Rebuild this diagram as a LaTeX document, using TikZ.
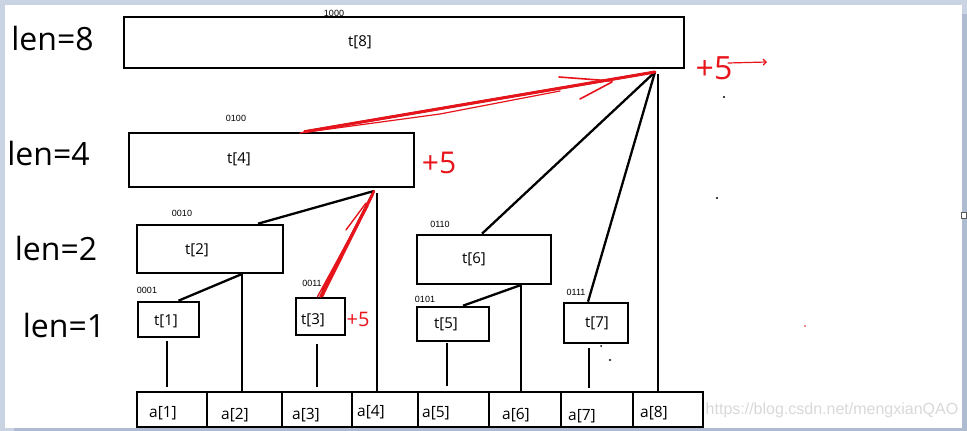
\documentclass[tikz,border=0pt]{standalone}
\usepackage{fontspec}
\usetikzlibrary{arrows.meta}
\newfontfamily\uifont{Open Sans}
\newfontfamily\arialfont{Liberation Sans}
\definecolor{inkred}{HTML}{E8141C}
\definecolor{winframe}{HTML}{C9D3E2}
\definecolor{winedge}{HTML}{AEBBD0}
\definecolor{wmgrey}{HTML}{D9D9D9}
\tikzset{
  tbox/.style={draw, line width=2.6pt, inner sep=0pt},
  tname/.style={font=\uifont\fontsize{15}{15}\selectfont, inner sep=0pt},
  bits/.style={font=\arialfont\fontsize{9}{9}\selectfont, inner sep=0pt},
  lenname/.style={font=\uifont\fontsize{32}{32}\selectfont, inner sep=0pt, anchor=base},
  cell/.style={draw, line width=2.6pt, minimum height=35pt, inner sep=0pt},
  link/.style={line width=2.3pt},
  redink/.style={draw=inkred, line cap=round},
  plusfive/.style={text=inkred, inner sep=0pt}
}

\begin{document}
\begin{tikzpicture}[x=1pt, y=-1pt]
  \useasboundingbox (0,0) rectangle (967,431);
  % window frame
  \fill[winframe] (0,0) rectangle (967,431);
  \fill[white] (5,5) rectangle (962,428);
  \fill[winedge] (962,14) rectangle (967,431);
  \fill[winedge] (14,428) rectangle (967,431);
  \draw[fill=white, line width=0.8pt, draw=gray!70!black] (961.5,212.5) rectangle (966.5,218.5);

  % level labels
  \node[lenname] (len8) at (52.5,50) {len=8};
  \node[lenname] (len4) at (48.5,165) {len=4};
  \node[lenname] (len2) at (56,260) {len=2};
  \node[lenname] (len1) at (64,337) {len=1};

  % tree boxes
  \node[tbox, minimum width=560pt, minimum height=51pt] (t8) at (404,42.5) {};
  \node[tbox, minimum width=285pt, minimum height=54pt] (t4) at (271.5,160) {};
  \node[tbox, minimum width=146pt, minimum height=48pt] (t2) at (210,249) {};
  \node[tbox, minimum width=134pt, minimum height=49pt] (t6) at (484,259.5) {};
  \node[tbox, minimum width=61pt, minimum height=35pt] (t1) at (168.5,319.5) {};
  \node[tbox, minimum width=49pt, minimum height=37pt] (t3) at (320.5,316.5) {};
  \node[tbox, minimum width=72pt, minimum height=34pt] (t5) at (453,324) {};
  \node[tbox, minimum width=64pt, minimum height=40pt] (t7) at (596,323) {};

  % names and bit codes
  \node[tname] (n8) at (360,42) {t[8]};
  \node[tname] (n4) at (239,159) {t[4]};
  \node[tname] (n2) at (197,250) {t[2]};
  \node[tname] (n6) at (474,259) {t[6]};
  \node[tname] (n1) at (166,321) {t[1]};
  \node[tname] (n3) at (313,320) {t[3]};
  \node[tname] (n5) at (446,324) {t[5]};
  \node[tname] (n7) at (597,323) {t[7]};
  \node[bits] (b8) at (334,13) {1000};
  \node[bits] (b4) at (236,118) {0100};
  \node[bits] (b2) at (182,213) {0010};
  \node[bits] (b6) at (440,224) {0110};
  \node[bits] (b1) at (147,290) {0001};
  \node[bits] (b3) at (312,283) {0011};
  \node[bits] (b5) at (425,299) {0101};
  \node[bits] (b7) at (576,292) {0111};

  % array a[1..8]
  \foreach \i/\l/\r/\lx/\ly in {1/137/207/163/413, 2/207/282/235/415,
      3/282/352/306/415, 4/352/418/371/412, 5/418/489/436/413,
      6/489/561/516/415, 7/561/633/582/416, 8/633/703/654/413} {
    \node[cell, minimum width={\r-\l}] (a\i) at ({(\l+\r)/2},409.5) {};
    \node[tname, font=\uifont\fontsize{15.5}{15.5}\selectfont] (la\i) at (\lx,\ly) {a[\i]};
  }

  % links
  \coordinate (j8) at (655,72);
  \coordinate (j4) at (374,191);
  \coordinate (j2) at (242,274);
  \coordinate (j6) at (521,285);
  \draw[link] (j8) -- ([xshift=33pt]t4.north);
  \draw[link] (j8) -- ([xshift=-2pt]t6.north);
  \draw[link] (j8) -- ([xshift=-8pt]t7.north);
  \draw[link] ([xshift=3pt,yshift=-2pt]j8) -- ([xshift=-10pt]a8.north);
  \draw[link] (j4) -- ([xshift=48pt]t2.north);
  \draw[link] (j4) -- (t3.north);
  \draw[link] ([xshift=3pt,yshift=-2pt]j4) -- ([xshift=-8pt]a4.north);
  \draw[link] (j2) -- ([xshift=10pt]t1.north);
  \draw[link] (j2) -- ([xshift=-2.5pt]a2.north);
  \draw[link] (j6) -- ([xshift=10pt]t5.north);
  \draw[link] (j6) -- ([xshift=-4pt]a6.north);
  % leaf stubs
  \draw[link, shorten <=3pt, shorten >=4pt] ([xshift=-1.5pt]t1.south) -- ([xshift=-1.5pt]t1.south |- a1.north);
  \draw[link, shorten <=8pt, shorten >=4pt] ([xshift=-3.5pt]t3.south) -- ([xshift=-3.5pt]t3.south |- a3.north);
  \draw[link, shorten <=1pt, shorten >=5pt] ([xshift=-6pt]t5.south) -- ([xshift=-6pt]t5.south |- a5.north);
  \draw[link, shorten <=4pt, shorten >=3pt] ([xshift=-7pt]t7.south) -- ([xshift=-7pt]t7.south |- a7.north);

  % red marks
  \draw[redink, line width=3pt] ([xshift=33pt]t4.north) -- (j8);
  \draw[redink, line width=1.2pt] (300,133) -- (440,114) -- (560,91);
  \draw[redink, line width=1.6pt] (559,77) -- (612,81);
  \draw[redink, line width=1.6pt] (580,99) -- (612,82);
  \draw[redink, line width=2.4pt] (t3.north) -- (j4);
  \draw[redink, line width=1.4pt] ([xshift=-3pt]t3.north) -- ([xshift=-3pt,yshift=-8pt]j4);
  \draw[redink, line width=1.4pt] ([xshift=2pt]t3.north) -- ([xshift=-1pt,yshift=-4pt]j4);
  \draw[redink, line width=1.2pt] (322,290) -- (362,214);
  \draw[redink, line width=1.4pt] (346,230) -- (366,203);
  \draw[redink, line width=1.2pt] (352,236) -- (368,206);
  \node[plusfive, font=\uifont\fontsize{32}{32}\selectfont] (p8) at (714,68) {+5};
  \draw[redink, line width=1.2pt, -{Straight Barb[length=3pt]}] (728,63) -- (767,62);
  \node[plusfive, font=\uifont\fontsize{30}{30}\selectfont] (p4) at (439,163) {+5};
  \node[plusfive, font=\uifont\fontsize{20}{20}\selectfont] (p3) at (358,319) {+5};

  % specks
  \fill (724,97) circle (1.2pt);
  \fill (717,198) circle (1.2pt);
  \fill (610,360) circle (1.2pt);
  \fill (601,346) circle (1pt);
  \fill[inkred] (805,326) circle (0.8pt);

  % watermark
  \node[font=\arialfont\fontsize{16}{16}\selectfont, text=wmgrey, inner sep=0pt] (wm) at (832,410) {https://blog.csdn.net/mengxianQAO};
\end{tikzpicture}
\end{document}
